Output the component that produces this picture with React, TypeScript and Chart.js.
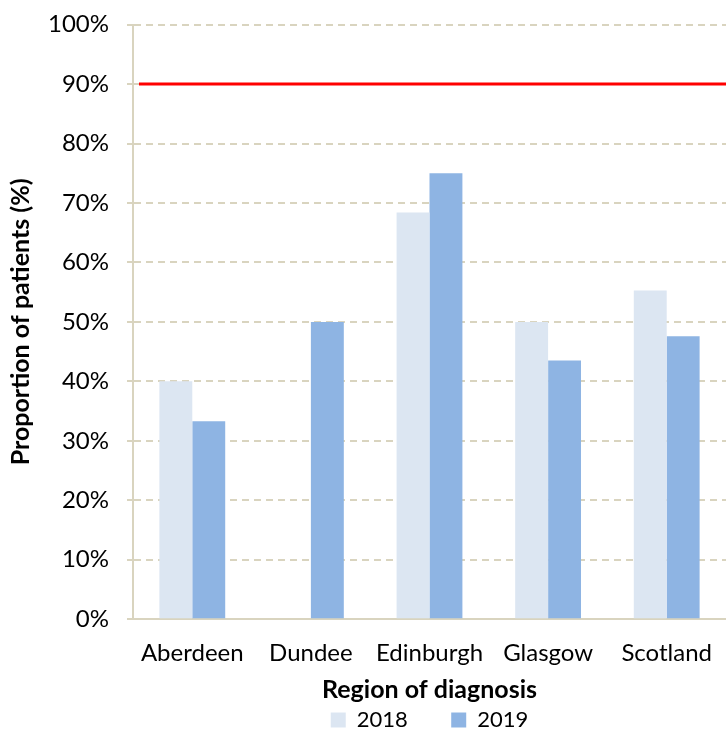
import React, { useEffect, useRef } from "react";
import { Chart, registerables } from "chart.js";

Chart.register(...registerables);

const categories = ["Aberdeen", "Dundee", "Edinburgh", "Glasgow", "Scotland"];
const series2018 = [40, null, 68.4, 50, 55.3];
const series2019 = [33.3, 50, 75, 43.5, 47.6];
const targetValue = 90;
const yTicks = [0, 10, 20, 30, 40, 50, 60, 70, 80, 90, 100];

const FONT = "Lato, 'Open Sans', sans-serif";

const targetLinePlugin = {
  id: "targetLine",
  afterDatasetsDraw(chart: any) {
    const { ctx, chartArea, scales } = chart;
    const y = scales.y.getPixelForValue(targetValue);
    ctx.save();
    ctx.strokeStyle = "#ff0000";
    ctx.lineWidth = 3;
    ctx.beginPath();
    ctx.moveTo(chartArea.left + 6, y);
    ctx.lineTo(chartArea.right, y);
    ctx.stroke();
    ctx.restore();
  },
};

export default function App() {
  const ref = useRef<HTMLCanvasElement>(null);
  useEffect(() => {
    document.body.style.margin = "0";
    const chart = new Chart(ref.current!, {
      type: "bar",
      data: {
        labels: categories,
        datasets: [
          {
            label: "2018",
            data: series2018 as any,
            backgroundColor: "#dce6f2",
            categoryPercentage: 0.555,
            barPercentage: 1,
          },
          {
            label: "2019",
            data: series2019,
            backgroundColor: "#8eb4e3",
            categoryPercentage: 0.555,
            barPercentage: 1,
          },
        ],
      },
      options: {
        animation: false,
        responsive: true,
        maintainAspectRatio: false,
        layout: { padding: { top: 0, right: 0, left: 6, bottom: -9 } },
        plugins: {
          tooltip: { enabled: false },
          legend: {
            position: "bottom",
            fullSize: false,
            labels: {
              color: "#000",
              font: { family: FONT, size: 22 },
              boxWidth: 15,
              boxHeight: 15,
              padding: 4,
              generateLabels(chart: any) {
                const items = Chart.defaults.plugins.legend.labels.generateLabels(chart);
                items.forEach((it: any, i: number) => {
                  if (i < items.length - 1) it.text = it.text + "       ";
                });
                return items;
              },
            },
          },
        },
        scales: {
          x: {
            grid: { display: false },
            border: { color: "#d9d4bf", width: 2 },
            ticks: { color: "#000", font: { family: FONT, size: 24 }, padding: 12 },
            title: {
              display: true,
              text: "Region of diagnosis",
              color: "#000",
              font: { family: FONT, size: 25, weight: "bold" },
              padding: { top: -5, bottom: 0 },
            },
          },
          y: {
            min: 0,
            max: 100,
            afterBuildTicks(scale: any) {
              scale.ticks = yTicks.map((v) => ({ value: v }));
            },
            grid: {
              color: "#d9d4bf",
              lineWidth: 2,
              tickLength: 6,
              drawTicks: true,
            },
            border: { color: "#d9d4bf", width: 2, dash: [7, 5] },
            ticks: {
              color: "#000",
              font: { family: FONT, size: 24, lineHeight: 0.55 },
              padding: 18,
              callback: (v: any) => v + "%",
            },
            title: {
              display: true,
              text: "Proportion of patients (%)",
              color: "#000",
              font: { family: FONT, size: 25, weight: "bold" },
              padding: { top: 0, bottom: -6 },
            },
          },
        },
      },
      plugins: [targetLinePlugin],
    });
    return () => chart.destroy();
  }, []);
  return (
    <div style={{ width: 726, height: 732, position: "relative" }}>
      <canvas ref={ref} />
    </div>
  );
}
